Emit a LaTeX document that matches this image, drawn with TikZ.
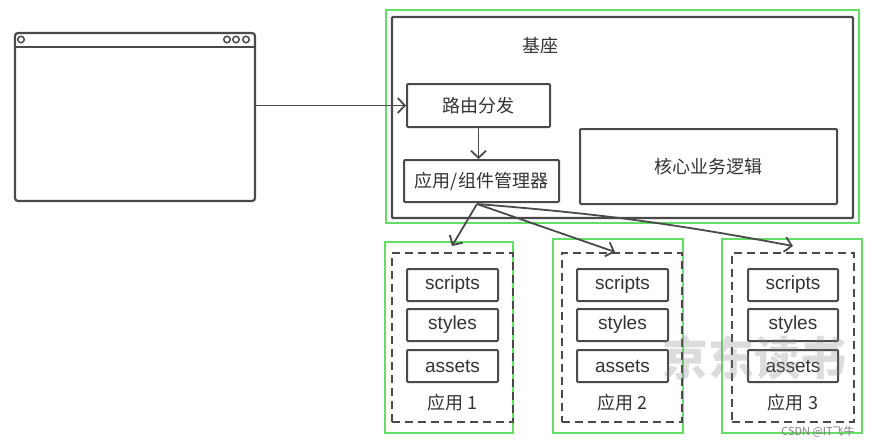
\documentclass[tikz,border=0pt]{standalone}
\usepackage{fontspec}
\setmainfont{Liberation Sans}
\newfontfamily\cjk{Noto Sans CJK SC}
\usetikzlibrary{arrows.meta}
\definecolor{dk}{HTML}{4A4A4A}
\definecolor{txt}{HTML}{333333}
\definecolor{lg}{HTML}{66DD66}
\tikzset{
  box/.style={draw=dk, line width=2pt, rounded corners=1pt, inner sep=0pt, text=txt, font=\fontsize{19}{22}\selectfont},
  gbox/.style={draw=lg, line width=1.2pt, inner sep=0pt},
  dbox/.style={draw=dk, line width=2pt, dash pattern=on 8pt off 5pt, inner sep=0pt},
  arr/.style={draw=dk, line width=1.8pt, -{Straight Barb[length=7pt,width=15pt]}},
  lbl/.style={text=txt, font=\fontsize{18}{21}\selectfont\cjk, inner sep=0pt},
}
\begin{document}
\begin{tikzpicture}[x=1pt,y=-1pt]
\useasboundingbox (0,0) rectangle (878,447);
% browser
\node[draw=dk, line width=2.2pt, rounded corners=3pt, minimum width=240pt, minimum height=168pt, inner sep=0pt] (browser) at (135,117) {};
\coordinate (tbl) at (15,47);
\coordinate (tbr) at (255,47);
\draw[dk, line width=2.4pt] (tbl) -- (tbr);
\foreach \cx/\nm in {21/c0,227/c1,236/c2,246/c3}{
  \node[draw=dk, circle, line width=1.5pt, minimum size=6.5pt, inner sep=0pt] (\nm) at (\cx,39.5) {};
}
% base
\node[gbox, minimum width=473pt, minimum height=213pt] (baseg) at (622.5,116.5) {};
\node[draw=dk, line width=2.2pt, rounded corners=1pt, minimum width=461pt, minimum height=201pt, inner sep=0pt] (base) at (622.5,117.5) {};
\node[lbl] (basel) at (540,46) {基座};
\node[box, minimum width=143pt, minimum height=43pt] (route) at (478.5,105.5) {\cjk\fontsize{18}{21}\selectfont 路由分发};
\node[box, minimum width=155pt, minimum height=42pt] (mgr) at (481.5,181) {\cjk\fontsize{18}{21}\selectfont 应用/组件管理器};
\node[box, minimum width=257pt, minimum height=75pt] (core) at (708.5,166.5) {\cjk\fontsize{18}{21}\selectfont 核心业务逻辑};
\draw[arr] (browser.east |- route.west) -- (route.west);
\draw[arr] (route.south) -- (route.south |- mgr.north);
% apps
\foreach \i/\gl/\gr/\gt/\dl/\dr/\il/\ir in {1/385/513/242/392/513/407/498, 2/553/683/239/562/682/577/668, 3/722/862/239/732/854/748/838}{
  \node[gbox, minimum width={\gr-\gl}, minimum height={433-\gt}] (g\i) at ({(\gl+\gr)/2},{(\gt+433)/2}) {};
  \node[dbox, minimum width={\dr-\dl}, minimum height=169pt] (d\i) at ({(\dl+\dr)/2},337.5) {};
  \node[box, minimum width={\ir-\il}, minimum height=32pt] (s\i) at ({(\il+\ir)/2},285) {scripts};
  \node[box, minimum width={\ir-\il}, minimum height=32pt] (t\i) at ({(\il+\ir)/2},325) {styles};
  \node[box, minimum width={\ir-\il}, minimum height=32pt] (a\i) at ({(\il+\ir)/2},366) {assets};
  \node[lbl] (l\i) at ({(\il+\ir)/2},403) {应用 \i};
}
\coordinate (fan) at (477,204);
\coordinate (tip1) at (452,246);
\coordinate (tip2) at (615,252);
\coordinate (tip3) at (793,246);
\draw[arr] (fan) -- (tip1);
\draw[arr] (fan) -- (tip2);
\draw[arr] (fan) to[bend left=3] (tip3);
% watermarks
\node[text=gray, opacity=0.28, font=\fontsize{46}{50}\selectfont\cjk\bfseries, inner sep=0pt] (wm) at (754,358) {京东读书};
\node[text=gray, font=\fontsize{11}{13}\selectfont\cjk, inner sep=0pt] (csdn) at (818,432) {CSDN @IT飞牛};
\end{tikzpicture}
\end{document}
